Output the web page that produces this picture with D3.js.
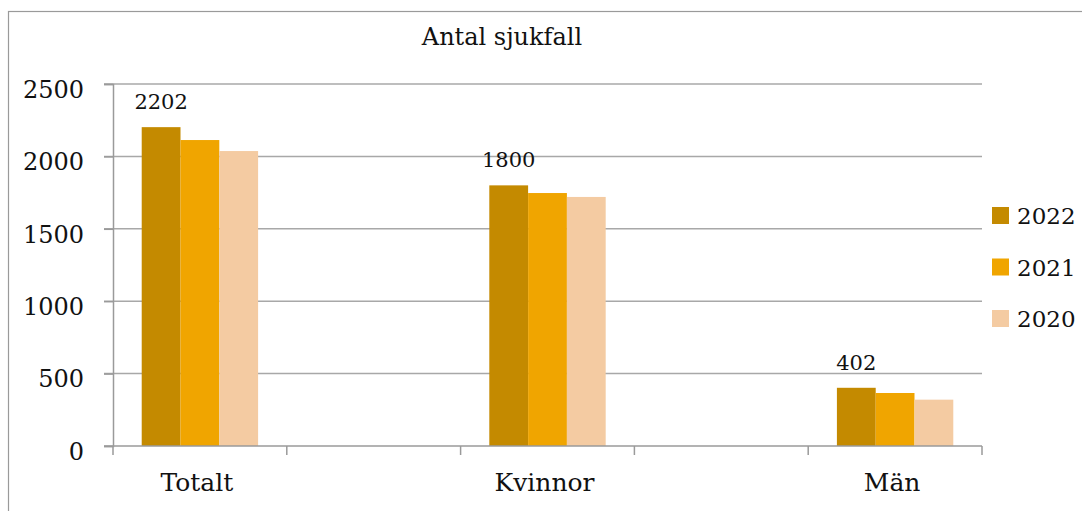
<!DOCTYPE html>
<html>
<head>
<meta charset="utf-8">
<script src="https://cdn.jsdelivr.net/npm/d3@7"></script>
<style>
  html, body { margin: 0; padding: 0; background: #fff; }
  svg { display: block; }
</style>
</head>
<body>
<svg id="chart" width="1082" height="511"></svg>
<script>
// Category slots; empty strings are spacer slots between the groups
const categories = ["Totalt", "", "Kvinnor", "", "Män"];
const seriesNames = ["2022", "2021", "2020"];
const values2022 = [2202, null, 1800, null, 402];
const values2021 = [2113, null, 1747, null, 366];
const values2020 = [2037, null, 1720, null, 320];
const yTicks = [0, 500, 1000, 1500, 2000, 2500];
const colors = ["#C48A00", "#F0A500", "#F4CBA2"];
const title = "Antal sjukfall";

const seriesValues = [values2022, values2021, values2020];
const FONT = "'DejaVu Serif', 'Liberation Serif', serif";

const svg = d3.select("#chart").attr("font-family", FONT);
const W = 1082, H = 511;
const plot = { left: 113, right: 982, top: 84, bottom: 446 };

// Outer frame (only top and left edges fall inside the view)
svg.append("rect")
  .attr("x", 8.5).attr("y", 11.5)
  .attr("width", W + 20).attr("height", H + 20)
  .attr("fill", "none").attr("stroke", "#9a9a9a").attr("stroke-width", 1.2);

const x0 = d3.scaleBand()
  .domain(d3.range(categories.length))
  .range([plot.left, plot.right])
  .paddingInner(0).paddingOuter(0);

const x1 = d3.scaleBand()
  .domain(seriesNames)
  .range([0, x0.bandwidth()])
  .paddingInner(0)
  .paddingOuter(0.74);

const y = d3.scaleLinear()
  .domain([0, 2500])
  .range([plot.bottom, plot.top]);

// Horizontal gridlines with short outward ticks
const grid = svg.append("g");
grid.selectAll("line")
  .data(yTicks.filter(d => d > 0))
  .join("line")
  .attr("x1", plot.left - 9).attr("x2", plot.right)
  .attr("y1", d => y(d)).attr("y2", d => y(d))
  .attr("stroke", "#a8a8a8").attr("stroke-width", 1.5);

// Y axis
const yAxis = svg.append("g")
  .attr("transform", `translate(${plot.left},0)`)
  .call(d3.axisLeft(y).tickValues(yTicks).tickSize(9).tickPadding(20).tickFormat(d3.format("d")));
yAxis.attr("font-family", FONT);
yAxis.select(".domain").attr("stroke", "#9a9a9a").attr("stroke-width", 1.5);
yAxis.selectAll(".tick line").attr("stroke", "#9a9a9a").attr("stroke-width", 1.5);
yAxis.selectAll(".tick text")
  .attr("font-size", 24)
  .attr("fill", "#111")
  .attr("dy", "0.55em");

// Bars
const groups = svg.append("g")
  .selectAll("g")
  .data(categories.map((c, i) => ({ c, i })).filter(d => d.c !== ""))
  .join("g")
  .attr("transform", d => `translate(${x0(d.i)},0)`);

groups.selectAll("rect")
  .data(d => seriesNames.map((s, k) => ({ s, k, v: seriesValues[k][d.i] })))
  .join("rect")
  .attr("x", d => x1(d.s))
  .attr("width", x1.bandwidth())
  .attr("y", d => y(d.v))
  .attr("height", d => y(0) - y(d.v))
  .attr("fill", d => colors[d.k]);

// Value labels on the 2022 bars
groups.append("text")
  .attr("x", x1("2022") + x1.bandwidth() / 2)
  .attr("y", d => y(values2022[d.i]) - 18)
  .attr("text-anchor", "middle")
  .attr("font-size", 21)
  .attr("fill", "#111")
  .text(d => values2022[d.i]);

// X axis: baseline with ticks at every slot boundary
const xAxis = svg.append("g");
xAxis.append("line")
  .attr("x1", plot.left - 9).attr("x2", plot.right)
  .attr("y1", plot.bottom).attr("y2", plot.bottom)
  .attr("stroke", "#9a9a9a").attr("stroke-width", 1.5);
xAxis.selectAll("line.tk")
  .data(d3.range(categories.length + 1))
  .join("line")
  .attr("class", "tk")
  .attr("x1", i => plot.left + i * x0.step())
  .attr("x2", i => plot.left + i * x0.step())
  .attr("y1", plot.bottom).attr("y2", plot.bottom + 9)
  .attr("stroke", "#9a9a9a").attr("stroke-width", 1.5);
xAxis.selectAll("text")
  .data(categories.map((c, i) => ({ c, i })).filter(d => d.c !== ""))
  .join("text")
  .attr("x", d => x0(d.i) + x0.bandwidth() / 2 - 3)
  .attr("y", 491)
  .attr("text-anchor", "middle")
  .attr("font-size", 25)
  .attr("fill", "#111")
  .text(d => d.c);

// Title
svg.append("text")
  .attr("x", 502).attr("y", 45)
  .attr("text-anchor", "middle")
  .attr("font-size", 24)
  .attr("fill", "#111")
  .text(title);

// Legend
const legend = svg.append("g").attr("transform", "translate(992,207)");
const items = legend.selectAll("g")
  .data(seriesNames)
  .join("g")
  .attr("transform", (d, i) => `translate(0,${i * 51.5})`);
items.append("rect")
  .attr("width", 17).attr("height", 17)
  .attr("fill", (d, i) => colors[i]);
items.append("text")
  .attr("x", 25).attr("y", 17)
  .attr("font-size", 23)
  .attr("fill", "#111")
  .text(d => d);
</script>
</body>
</html>
